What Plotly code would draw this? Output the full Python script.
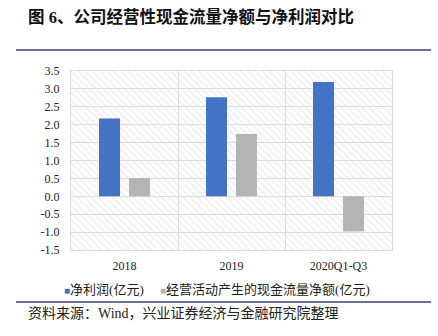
import plotly.graph_objects as go

# Annual figures (亿元)
categories = ["2018", "2019", "2020Q1-Q3"]
net_profit = [2.17, 2.77, 3.19]
operating_cash_flow = [0.51, 1.74, -0.98]
series_names = ["净利润(亿元)", "经营活动产生的现金流量净额(亿元)"]

y_ticks = [-1.5, -1.0, -0.5, 0.0, 0.5, 1.0, 1.5, 2.0, 2.5, 3.0, 3.5]
y_tick_text = [f"{v:.1f}" for v in y_ticks]

BLUE = "#4472C4"
GRAY = "#B4B4B4"
GRID = "#DADADA"
RULE = "#3A3F85"
FONT_LATIN = "Liberation Serif, Noto Sans CJK SC, serif"

# Plot-area geometry in pixels
L, R, T, B = 71, 46, 71, 86
PW, PH = 438 - L - R, 336 - T - B


def px_x(x):
    return (x - L) / PW


def px_y(y):
    return (336 - B - y) / PH


fig = go.Figure()

# Diagonal-hatched plot background (transparent base so the grid shows through)
fig.add_trace(go.Bar(
    x=[categories[1]], y=[y_ticks[-1] - y_ticks[0]], base=[y_ticks[0]],
    width=[3], offset=-1.5,
    marker=dict(color="rgba(0,0,0,0)", line=dict(width=0),
                pattern=dict(shape="\\", fgcolor="#E4E4E4", bgcolor="rgba(0,0,0,0)",
                             size=5, solidity=0.4)),
    showlegend=False, hoverinfo="skip",
))

fig.add_trace(go.Bar(
    x=categories, y=net_profit, name=series_names[0],
    width=0.196, offset=-0.238, showlegend=False,
    marker=dict(color=BLUE, line=dict(width=0)),
))
fig.add_trace(go.Bar(
    x=categories, y=operating_cash_flow, name=series_names[1],
    width=0.196, offset=0.042, showlegend=False,
    marker=dict(color=GRAY, line=dict(width=0)),
))

fig.update_layout(
    width=438, height=336,
    margin=dict(l=L, r=R, t=T, b=B, autoexpand=False),
    paper_bgcolor="white", plot_bgcolor="white",
    barmode="overlay", showlegend=False,
    font=dict(family=FONT_LATIN, size=12, color="#222222"),
    xaxis=dict(
        type="category", categoryorder="array", categoryarray=categories,
        range=[-0.5, 2.5],
        tickson="boundaries", showgrid=True, gridcolor=GRID, gridwidth=1,
        showline=True, mirror=True, linecolor=GRID, linewidth=1,
        ticks="", ticklabelstandoff=5,
        tickfont=dict(family=FONT_LATIN, size=12, color="#222222"),
        zeroline=False,
    ),
    yaxis=dict(
        range=[y_ticks[0], y_ticks[-1]],
        tickmode="array", tickvals=y_ticks, ticktext=y_tick_text,
        showgrid=True, gridcolor=GRID, gridwidth=1,
        showline=True, mirror=True, linecolor=GRID, linewidth=1,
        zeroline=False, ticks="", ticklabelstandoff=8,
        tickfont=dict(family=FONT_LATIN, size=12, color="#222222"),
    ),
)

# Legend row: coloured square key followed by the series name
for name, color, x_left in ((series_names[0], BLUE, 62), (series_names[1], GRAY, 158)):
    fig.add_annotation(
        text=f"<span style='color:{color};font-size:10px'>■</span>{name}",
        xref="paper", yref="paper", x=px_x(x_left), xanchor="left",
        y=px_y(289), yanchor="middle", showarrow=False,
        font=dict(family=FONT_LATIN, size=13, color="#222222"),
    )

fig.add_annotation(
    text="<b>图 6、公司经营性现金流量净额与净利润对比</b>",
    xref="paper", yref="paper", x=px_x(26), xanchor="left",
    y=px_y(17), yanchor="middle", showarrow=False,
    font=dict(family=FONT_LATIN, size=16.5, color="#111111"),
)
fig.add_annotation(
    text="资料来源：Wind，兴业证券经济与金融研究院整理",
    xref="paper", yref="paper", x=px_x(26), xanchor="left",
    y=px_y(313), yanchor="middle", showarrow=False,
    font=dict(family=FONT_LATIN, size=14, color="#222222"),
)

# Horizontal rules under the title and above the source line
for y_px in (50, 302):
    fig.add_shape(
        type="line", xref="paper", yref="paper",
        x0=px_x(16), x1=px_x(431), y0=px_y(y_px), y1=px_y(y_px),
        line=dict(color=RULE, width=1.5),
    )

fig.write_html("out.html")
